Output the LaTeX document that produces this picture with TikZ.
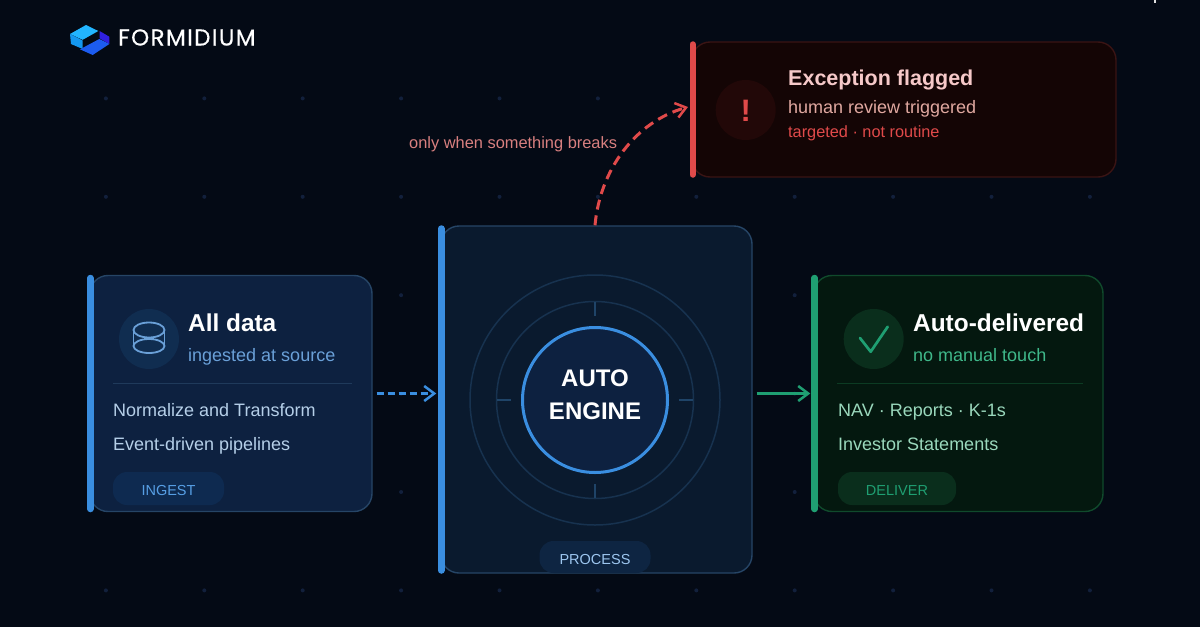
\documentclass[tikz,border=0pt]{standalone}
\usepackage{fontspec}
\setmainfont{Liberation Sans}
\newfontfamily\logofont[FakeBold=0.5,LetterSpace=6]{Poppins}
\usepackage{tikz}
\usetikzlibrary{arrows.meta,positioning}
\definecolor{pagebg}{HTML}{040A15}
\definecolor{griddot}{HTML}{12203C}
\definecolor{fmblue}{HTML}{3A8EE0}
\definecolor{fmred}{HTML}{E04A4A}
\definecolor{fmgreen}{HTML}{1F9F72}
\definecolor{cardblue}{HTML}{0D2140}
\definecolor{edgeblue}{HTML}{264566}
\definecolor{cardengine}{HTML}{0A1A2E}
\definecolor{cardred}{HTML}{140505}
\definecolor{edgered}{HTML}{3A1414}
\definecolor{cardgreen}{HTML}{04180F}
\definecolor{edgegreen}{HTML}{104A2C}
\definecolor{ringblue}{HTML}{17324F}
\definecolor{tickblue}{HTML}{1F4468}
\definecolor{spotblue}{HTML}{102D50}
\definecolor{spotgreen}{HTML}{0A2E1C}
\definecolor{spotred}{HTML}{220808}
\definecolor{pillblue}{HTML}{0E2A50}
\definecolor{pillengine}{HTML}{0E2542}
\definecolor{softblue}{HTML}{6AA0D8}
\definecolor{bodyblue}{HTML}{B5CFE8}
\definecolor{softgreen}{HTML}{3FB88A}
\definecolor{bodygreen}{HTML}{9AD8BC}
\definecolor{softred}{HTML}{E0A8A0}
\definecolor{labelred}{HTML}{D98080}
\definecolor{logotop}{HTML}{22B5FF}
\definecolor{logoside}{HTML}{1498F0}
\definecolor{logoright}{HTML}{3020E0}
\definecolor{logobase}{HTML}{1C5CF0}
\tikzset{
    cardbox/.style={draw, rounded corners=18pt, line width=1.4pt},
    sidebar/.style={line width=6.5pt, line cap=round, shorten <=3.2pt, shorten >=3.2pt},
    iconspot/.style={circle, minimum size=60pt, inner sep=0pt},
    pillbox/.style={rounded corners=14pt, inner sep=0pt, text height=14.5pt, text depth=0pt, font=\fontsize{14.5}{17}\selectfont},
    headtext/.style={anchor=base west, inner sep=0pt, font=\fontsize{24.4}{28}\selectfont\bfseries},
    subtext/.style={anchor=base west, inner sep=0pt, font=\fontsize{18}{22}\selectfont},
    bodytext/.style={anchor=base west, inner sep=0pt, font=\fontsize{18}{22}\selectfont},
    flowtip/.style={-{Straight Barb[length=10pt,width=15pt,line width=2.5pt]}, line width=3pt},
}
\begin{document}
\begin{tikzpicture}[x=1pt, y=-1pt]
    \useasboundingbox (0,0) rectangle (1200,627);
    \fill[pagebg] (0,0) rectangle (1200,627);
    \fill[white!75!gray] (1153.5,0) rectangle (1155.7,2.6);

    % Dot grid behind the cards
    \foreach \gx in {1,...,11}
        \foreach \gy in {1,...,6}
            \fill[griddot] (7.5+98.4*\gx, 98.4*\gy) circle (2pt);

    % Logo
    \fill[logotop] (70,34) -- (86,25) -- (98.3,31) -- (82.7,39.8) -- cycle;
    \fill[logoside] (70,34) -- (82.7,40.5) -- (82.7,49) -- (71,44) -- cycle;
    \fill[logoright] (99.5,31) -- (109.3,36.7) -- (109.3,44) -- (99.5,38.3) -- cycle;
    \fill[logobase] (80,49.3) -- (99.3,39) -- (109.3,44) -- (92.7,55) -- cycle;
    \node[anchor=base west, inner sep=0pt, text=white, font=\logofont\fontsize{23}{26}\selectfont] (brand) at (118,45.5) {FORMIDIUM};

    % Cards
    \node[cardbox, fill=cardblue, draw=edgeblue, minimum width=282pt, minimum height=236pt] (data) at (231,393.5) {};
    \node[cardbox, fill=cardengine, draw=edgeblue, minimum width=311pt, minimum height=347pt] (engine) at (596.5,399.5) {};
    \node[cardbox, fill=cardgreen, draw=edgegreen, minimum width=289pt, minimum height=236pt] (done) at (958.5,393.5) {};
    \node[cardbox, fill=cardred, draw=edgered, minimum width=424pt, minimum height=135pt] (flag) at (904,109.5) {};

    % Coloured bars on the left side of the cards
    \draw[sidebar, fmblue] ([xshift=1pt]data.north west) -- ([xshift=1pt]data.south west);
    \draw[sidebar, fmblue] ([xshift=1pt]engine.north west) -- ([xshift=1pt]engine.south west);
    \draw[sidebar, fmgreen] ([xshift=1.3pt]done.north west) -- ([xshift=1.3pt]done.south west);
    \draw[sidebar, fmred] ([xshift=1.5pt]flag.north west) -- ([xshift=1.5pt]flag.south west);

    % Ingest card
    \node[iconspot, fill=spotblue] (dataspot) at (149,339) {};
    \draw[softblue, line width=1.8pt] (133.5,330) -- (133.5,346) (164.5,330) -- (164.5,346);
    \draw[softblue, line width=1.8pt] (149,330) ellipse (15.5pt and 7.5pt) (149,346) ellipse (15.5pt and 7pt);
    \node[headtext, text=white] (datahead) at (188,331) {All data};
    \node[subtext, text=softblue] (datasub) at (188,361) {ingested at source};
    \coordinate (datarulea) at (113,383.5);
    \coordinate (dataruleb) at (352,383.5);
    \draw[edgeblue!70!cardblue, line width=1pt] (datarulea) -- (dataruleb);
    \node[bodytext, text=bodyblue] (databodya) at (113,416.5) {Normalize and Transform};
    \node[bodytext, text=bodyblue] (databodyb) at (113,450) {Event-driven pipelines};
    \node[pillbox, fill=pillblue, text=fmblue!85!white, minimum width=111pt, minimum height=33pt] (ingest) at (168.5,488.5) {INGEST};

    % Engine card
    \draw[ringblue, line width=1.5pt] (595,400) circle (125pt);
    \draw[ringblue, line width=1.5pt] (595,400) circle (98.5pt);
    \draw[tickblue, line width=2pt] (595,302) -- (595,316) (595,484) -- (595,498) (497,400) -- (511,400) (679,400) -- (693,400);
    \node[circle, draw=fmblue, fill=cardblue, line width=3pt, minimum size=145pt, inner sep=0pt] (core) at (595,400) {};
    \node[anchor=base, inner sep=0pt, text=white, font=\fontsize{24}{28}\selectfont\bfseries] (corea) at (595,386) {AUTO};
    \node[anchor=base, inner sep=0pt, text=white, font=\fontsize{24}{28}\selectfont\bfseries] (coreb) at (595,419) {ENGINE};
    \node[pillbox, fill=pillengine, text=fmblue!50!white, minimum width=111pt, minimum height=32pt] (process) at (595,557) {PROCESS};

    % Deliver card
    \node[iconspot, fill=spotgreen] (donespot) at (873.7,339) {};
    \draw[fmgreen, line width=2.7pt, line cap=round, line join=round] (860,338) -- (870.7,351.7) -- (887.7,326.7);
    \node[headtext, text=white] (donehead) at (913,331) {Auto-delivered};
    \node[subtext, text=softgreen] (donesub) at (913,361) {no manual touch};
    \coordinate (donerulea) at (837,383.5);
    \coordinate (doneruleb) at (1083,383.5);
    \draw[edgegreen!70!cardgreen, line width=1pt] (donerulea) -- (doneruleb);
    \node[bodytext, text=bodygreen] (donebodya) at (838,416.5) {NAV · Reports · K-1s};
    \node[bodytext, text=bodygreen] (donebodyb) at (838,450) {Investor Statements};
    \node[pillbox, fill=spotgreen, text=fmgreen, minimum width=118pt, minimum height=33pt] (deliver) at (897,488.5) {DELIVER};

    % Exception card
    \node[iconspot, fill=spotred] (flagspot) at (745.7,110) {};
    \node[anchor=base, inner sep=0pt, text=fmred, font=\fontsize{31}{36}\selectfont\bfseries] (flagmark) at (745.7,121) {!};
    \node[anchor=base west, inner sep=0pt, text=fmred!30!white, font=\fontsize{21.5}{26}\selectfont\bfseries] (flaghead) at (788,85) {Exception flagged};
    \node[subtext, text=softred] (flagsub) at (788,113) {human review triggered};
    \node[anchor=base west, inner sep=0pt, text=fmred, font=\fontsize{16.3}{20}\selectfont] (flagnote) at (788,137) {targeted · not routine};

    % Arrows between the cards
    \draw[flowtip, fmblue, dash pattern=on 7pt off 4pt, shorten <=4pt, shorten >=4pt] (data.east) -- (data.east -| engine.west);
    \draw[flowtip, fmgreen, shorten <=4pt, shorten >=3pt] (engine.east |- done.west) -- (done.west);
    \draw[flowtip, fmred, dash pattern=on 10pt off 6pt] (engine.north -| 595,0) .. controls (600,170) and (635,122) .. (688,107);
    \node[anchor=base west, inner sep=0pt, text=labelred, font=\fontsize{16.4}{20}\selectfont] (breaks) at (409,148) {only when something breaks};
\end{tikzpicture}
\end{document}
